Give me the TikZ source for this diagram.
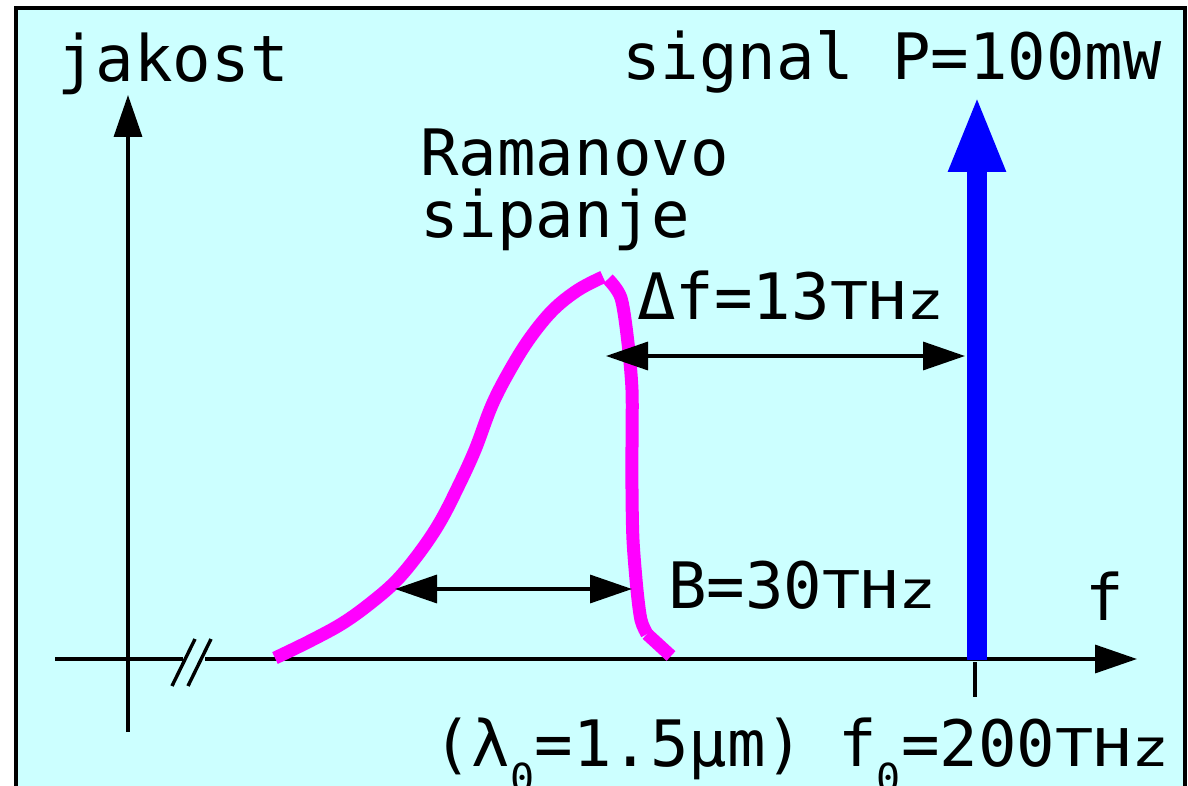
\documentclass[tikz,border=0pt]{standalone}
\usepackage{fontspec}
\setmonofont{DejaVu Sans Mono}
\usetikzlibrary{arrows.meta, positioning}

\definecolor{bgcyan}{RGB}{204,255,255}
\definecolor{ramancol}{RGB}{255,0,255}
\definecolor{signalcol}{RGB}{0,0,255}

% lower unit letters and the low index
\newcommand{\unitsm}[1]{\scalebox{1.22}[1]{\fontsize{26}{26}\selectfont #1}}
\newcommand{\lowidx}[1]{\raisebox{-13pt}{\fontsize{20}{20}\selectfont #1}}

\begin{document}
\begin{tikzpicture}[x=0.5pt, y=-0.5pt,
    lbl/.style={inner sep=0pt, anchor=base west, font=\ttfamily\fontsize{32}{32}\selectfont},
    axis/.style={line width=1.7pt, -{Triangle[length=21pt, width=14pt]}},
    dimline/.style={line width=1.7pt, {Triangle[length=21pt, width=14pt]}-{Triangle[length=21pt, width=14pt]}},
    raman/.style={ramancol, line width=6.5pt}]
    \useasboundingbox (0,0) rectangle (1188,786);
    \draw[line width=1.7pt, fill=bgcyan] (16,8) rectangle (1185,800);

    % axes
    \coordinate (ybot) at (128,732);
    \coordinate (ytop) at (128,95);
    \coordinate (xleft) at (55,659);
    \coordinate (xbreak) at (183,659);
    \coordinate (xresume) at (205,659);
    \coordinate (xright) at (1137,659);
    \draw[axis] (ybot) -- (ytop);
    \draw[line width=1.7pt] (xleft) -- (xbreak);
    \draw[axis] (xresume) -- (xright);
    \draw[line width=1.7pt] (172,686) -- (195,639);
    \draw[line width=1.7pt] (188,686) -- (211,639);
    \draw[line width=1.7pt] (975,662) -- (975,697);

    % signal
    \coordinate (sigfoot) at (977,660);
    \coordinate (sigtip) at (977,95);
    \draw[signalcol, line width=10pt, -{Triangle[length=38.5pt, width=26pt]}] (sigfoot) -- (sigtip);

    % raman spectrum
    \draw[raman] plot[smooth, tension=0.6] coordinates {(275,658) (310,641) (343,623)
        (372,602) (397,580) (420,552) (440,522) (458,487) (475,450) (492,405)
        (510,370) (530,338) (553,310) (578,290) (603,277)};
    \draw[raman] plot[smooth, tension=0.5] coordinates {(608,279) (621,298) (628,343)
        (632,390) (632,440) (632,490) (633,540) (637,590) (641,620) (647,634)};
    \draw[raman] (647,634) -- (671,656);

    % widths
    \coordinate (dfa) at (606,356);
    \coordinate (dfb) at (965,356);
    \coordinate (bwa) at (395,589);
    \coordinate (bwb) at (632,589);
    \draw[dimline] (dfa) -- (dfb);
    \draw[dimline] (bwa) -- (bwb);

    % labels
    \node[lbl] (ylabel) at (57,82) {jakost};
    \node[lbl] (siglabel) at (622,80) {signal P=100m\unitsm{W}};
    \node[lbl] (raman1) at (420,176) {Ramanovo};
    \node[lbl] (raman2) at (420,238) {sipanje};
    \node[lbl] (dflabel) at (637,320) {Δf=13\unitsm{THz}};
    \node[lbl] (blabel) at (668,608) {B=30\unitsm{THz}};
    \node[lbl] (xlabel) at (1085,620) {f};
    \node[lbl] (lamlabel) at (433,766) {(λ\lowidx{0}=1.5μm)};
    \node[lbl] (f0label) at (838,766) {f\lowidx{0}=200\unitsm{THz}};
\end{tikzpicture}
\end{document}
